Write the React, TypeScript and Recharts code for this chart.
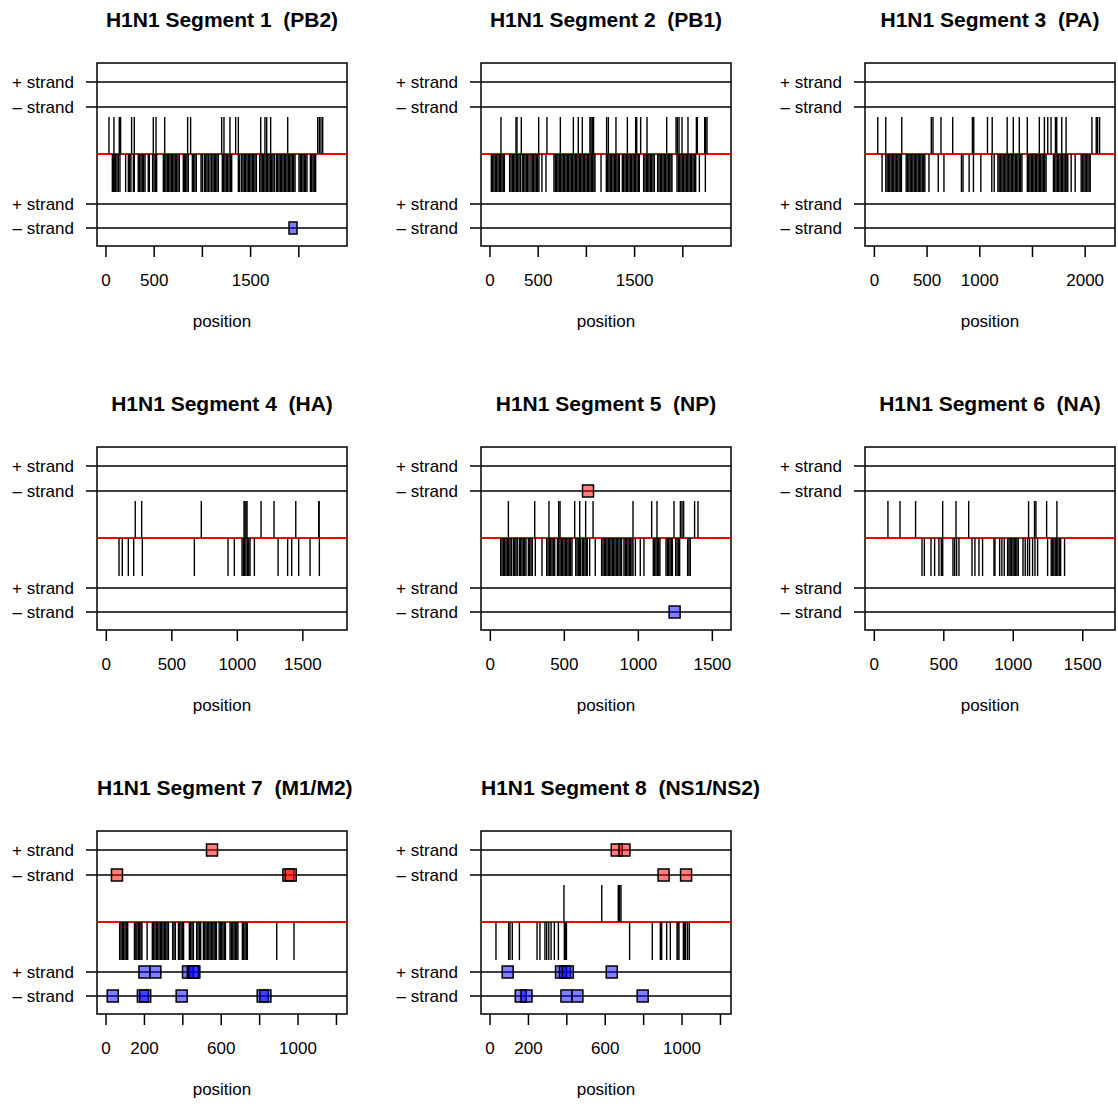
import { ComposedChart, Scatter, XAxis, YAxis, ReferenceLine, ReferenceArea, Label } from "recharts"

const FONT = '"Liberation Sans", Arial, Helvetica, sans-serif'

// y runs in box pixels from the top of the plot box
const BOX_H = 183
const STRAND_LEVELS = [19, 44, 141, 165]
const STRAND_LABELS = ["+ strand", "– strand", "+ strand", "– strand"]
const RED_LEVEL = 91
const UP_TOP = 54
const UP_LEN = 37
const DOWN_LEN = 38

const TITLES = [
  "H1N1 Segment 1  (PB2)", "H1N1 Segment 2  (PB1)", "H1N1 Segment 3  (PA)",
  "H1N1 Segment 4  (HA)", "H1N1 Segment 5  (NP)", "H1N1 Segment 6  (NA)",
  "H1N1 Segment 7  (M1/M2)", "H1N1 Segment 8  (NS1/NS2)",
]

// x axis
const ticksLong = [0, 500, 1000, 1500, 2000]
const labelsSeg12 = [0, 500, 1500]
const labelsSeg3 = [0, 500, 1000, 2000]
const ticksMid = [0, 500, 1000, 1500]
const ticksShort = [0, 200, 400, 600, 800, 1000, 1200]
const labelsShort = [0, 200, 600, 1000]

// segment 1 (PB2)
const seg1Up = [31, 83, 138, 152, 266, 294, 491, 519, 609, 847, 878, 1200, 1224, 1286, 1345, 1373, 1605, 1649, 1667, 1708, 1885, 2196, 2213, 2230, 2248]
const seg1Down = [66, 76, 86, 100, 114, 128, 145, 204, 232, 246, 259, 284, 294, 335, 349, 363, 377, 391, 405, 439, 450, 484, 498, 512, 526,
  595, 609, 622, 636, 650, 664, 678, 692, 705, 719, 733, 747, 761, 802, 813, 826, 840, 854, 896, 909, 923, 937, 986, 999,
  1020, 1034, 1048, 1062, 1079, 1096, 1110, 1124, 1138, 1151, 1165, 1207, 1221, 1234, 1248, 1262, 1276, 1290, 1304,
  1373, 1387, 1407, 1421, 1435, 1449, 1463, 1477, 1490, 1504, 1518, 1532, 1546, 1560, 1594, 1608, 1622, 1636, 1649, 1663,
  1677, 1691, 1705, 1719, 1732, 1746, 1767, 1781, 1795, 1809, 1822, 1836, 1850, 1864, 1878, 1892, 1906, 1919, 1933, 1947,
  1961, 2002, 2016, 2030, 2044, 2058, 2071, 2085, 2120, 2134, 2148, 2161, 2175]
const seg1MinusBot = [1940]

// segment 2 (PB1)
const seg2Up = [114, 270, 280, 325, 505, 591, 730, 865, 916, 958, 1037, 1048, 1062, 1075, 1210, 1228, 1307, 1425, 1511, 1522, 1563, 1629, 1833, 1930, 1943, 1961, 1992, 2054, 2141, 2151, 2227, 2237, 2251]
const seg2Down = [14, 28, 41, 55, 69, 83, 97, 111, 124, 138, 149, 204, 218, 232, 246, 259, 273, 287, 301, 315, 335, 349, 363, 377, 391, 405,
  425, 439, 453, 467, 481, 494, 508, 539, 581, 664, 678, 692, 705, 719, 733, 747, 761, 775, 789, 802, 816, 830, 844, 858, 872, 885,
  899, 913, 927, 941, 954, 968, 982, 996, 1010, 1024, 1037, 1051, 1065, 1079, 1089, 1152, 1207, 1221, 1234, 1248, 1262, 1276, 1290,
  1304, 1317, 1331, 1342, 1373, 1387, 1401, 1414, 1428, 1442, 1456, 1470, 1484, 1497, 1511, 1525, 1539, 1549, 1594, 1608, 1622, 1636,
  1649, 1663, 1677, 1691, 1705, 1739, 1753, 1767, 1781, 1795, 1809, 1822, 1836, 1850, 1864, 1878, 1888, 1940, 1954, 1968, 1981, 1995,
  2009, 2023, 2037, 2051, 2064, 2078, 2092, 2106, 2120, 2134, 2172, 2234]

// segment 3 (PA)
const seg3Up = [32, 108, 260, 540, 556, 632, 743, 930, 943, 1073, 1118, 1260, 1318, 1375, 1451, 1565, 1613, 1645, 1676, 1718, 1730, 1778, 1819, 2064, 2105, 2118, 2137]
const seg3Down = [73, 108, 121, 133, 146, 159, 171, 184, 197, 210, 222, 235, 248, 257, 302, 314, 327, 340, 352, 365, 378, 391, 403, 416, 429,
  441, 454, 467, 479, 518, 606, 660, 826, 841, 899, 940, 1010, 1114, 1137, 1172, 1184, 1197, 1210, 1222, 1235, 1248, 1260, 1273, 1286,
  1299, 1311, 1324, 1337, 1349, 1362, 1375, 1387, 1400, 1451, 1464, 1476, 1489, 1502, 1514, 1527, 1540, 1553, 1565, 1578, 1591, 1603,
  1616, 1629, 1699, 1711, 1724, 1737, 1749, 1762, 1775, 1787, 1800, 1813, 1826, 1835, 1867, 1905, 1962, 1975, 1988, 2000, 2013, 2026,
  2038, 2048]

// segment 4 (HA)
const seg4Up = [221, 270, 725, 1051, 1059, 1066, 1074, 1181, 1280, 1446, 1621, 1624]
const seg4Down = [97, 122, 168, 209, 275, 672, 929, 977, 1036, 1046, 1056, 1066, 1077, 1087, 1097, 1130, 1311, 1384, 1415, 1468, 1555, 1626]

// segment 5 (NP)
const seg5Up = [122, 300, 396, 462, 471, 570, 604, 644, 694, 964, 1090, 1126, 1241, 1284, 1295, 1306, 1380, 1403]
const seg5Down = [70, 79, 88, 97, 106, 115, 124, 133, 142, 155, 164, 173, 182, 196, 205, 214, 223, 232, 241, 257, 266, 275, 284, 304, 349,
  381, 390, 399, 408, 417, 426, 435, 453, 462, 471, 480, 489, 498, 507, 516, 525, 534, 543, 552, 577, 586, 595, 604, 610, 622, 631,
  640, 649, 655, 671, 709, 752, 761, 770, 779, 788, 797, 806, 815, 824, 833, 842, 851, 860, 869, 878, 887, 903, 912, 921, 930, 939,
  948, 957, 964, 980, 1013, 1038, 1101, 1110, 1119, 1128, 1137, 1146, 1187, 1196, 1205, 1214, 1223, 1230, 1252, 1261, 1270, 1279,
  1333, 1342, 1351]
const seg5MinusTop = [660]
const seg5MinusBot = [1245]

// segment 6 (NA)
const seg6Up = [98, 185, 297, 492, 588, 679, 1110, 1153, 1163, 1240, 1314]
const seg6Down = [343, 360, 408, 434, 465, 482, 492, 566, 578, 592, 609, 703, 724, 753, 779, 861, 868, 902, 918, 935, 959, 969, 978, 988,
  998, 1007, 1017, 1026, 1036, 1070, 1086, 1103, 1117, 1139, 1156, 1175, 1247, 1273, 1283, 1292, 1302, 1312, 1321, 1331, 1341, 1369]

// segment 7 (M1/M2)
const seg7Down = [71, 78, 85, 92, 99, 106, 113, 148, 155, 161, 168, 175, 182, 187, 214, 241, 248, 255, 262, 269, 276, 283, 290, 297, 304,
  311, 318, 325, 347, 354, 361, 377, 384, 391, 398, 404, 434, 441, 448, 455, 472, 479, 486, 493, 507, 514, 521, 528, 535, 542, 549,
  556, 563, 569, 575, 589, 595, 602, 609, 616, 622, 646, 653, 660, 667, 674, 681, 687, 710, 717, 724, 731, 736, 889, 979]
const seg7PlusTop = [552]
const seg7MinusTop = [57, 950, 962]
const seg7PlusBot = [200, 257, 427, 452, 460]
const seg7MinusBot = [35, 192, 204, 394, 816, 830]

// segment 8 (NS1/NS2)
const seg8Up = [385, 582, 668, 675, 682]
const seg8Down = [31, 97, 104, 116, 153, 245, 260, 286, 295, 306, 318, 335, 356, 387, 392, 398, 727, 845, 887, 894, 920, 939, 974, 979,
  984, 1007, 1012, 1019, 1029, 1038]
const seg8PlusTop = [660, 700]
const seg8MinusTop = [904, 1021]
const seg8PlusBot = [92, 370, 390, 405, 634]
const seg8MinusBot = [160, 190, 398, 455, 795]

const pts = (xs: number[], y: number) => xs.map((x) => ({ x, y }))

const panels = [
  { domain: [-93, 2500], ticks: ticksLong, labels: labelsSeg12, up: seg1Up, down: seg1Down, pt: [], mt: [], pb: [], mb: seg1MinusBot, sw: 8 },
  { domain: [-93, 2500], ticks: ticksLong, labels: labelsSeg12, up: seg2Up, down: seg2Down, pt: [], mt: [], pb: [], mb: [], sw: 11 },
  { domain: [-89, 2283], ticks: ticksLong, labels: labelsSeg3, up: seg3Up, down: seg3Down, pt: [], mt: [], pb: [], mb: [], sw: 11 },
  { domain: [-71, 1837], ticks: ticksMid, labels: ticksMid, up: seg4Up, down: seg4Down, pt: [], mt: [], pb: [], mb: [], sw: 11 },
  { domain: [-63, 1626], ticks: ticksMid, labels: ticksMid, up: seg5Up, down: seg5Down, pt: [], mt: seg5MinusTop, pb: [], mb: seg5MinusBot, sw: 11 },
  { domain: [-67, 1732], ticks: ticksMid, labels: ticksMid, up: seg6Up, down: seg6Down, pt: [], mt: [], pb: [], mb: [], sw: 11 },
  { domain: [-47, 1255], ticks: ticksShort, labels: labelsShort, up: [], down: seg7Down, pt: seg7PlusTop, mt: seg7MinusTop, pb: seg7PlusBot, mb: seg7MinusBot, sw: 11 },
  { domain: [-47, 1255], ticks: ticksShort, labels: labelsShort, up: seg8Up, down: seg8Down, pt: seg8PlusTop, mt: seg8MinusTop, pb: seg8PlusBot, mb: seg8MinusBot, sw: 11 },
]

const RED_FILL = "rgba(255,0,0,0.5)"
const BLUE_FILL = "rgba(0,0,255,0.5)"

const UpTick = (p: any) => <line x1={p.cx} x2={p.cx} y1={p.cy} y2={p.cy + UP_LEN} stroke="#000" strokeWidth={1.4} />
const DownTick = (p: any) => <line x1={p.cx} x2={p.cx} y1={p.cy} y2={p.cy + DOWN_LEN} stroke="#000" strokeWidth={1.4} />
const square = (fill: string, w: number) => (p: any) => (
  <rect x={p.cx - w / 2} y={p.cy - 6} width={w} height={12} fill={fill} stroke="#000" strokeWidth={1.5} />
)

function Panel({ idx }: { idx: number }) {
  const p = panels[idx]
  const col = idx % 3
  const row = Math.floor(idx / 3)
  const tickFont = { fontSize: 17, fill: "#000" }
  return (
    <>
      <div
        style={{
          position: "absolute", left: col * 384 + 97, top: row * 384 + 9, width: 250,
          textAlign: "center", fontWeight: "bold", fontSize: 21, lineHeight: "21px", whiteSpace: "pre",
        }}
      >
        {TITLES[idx]}
      </div>
      <div style={{ position: "absolute", left: col * 384, top: row * 384 }}>
        <ComposedChart width={350} height={340} margin={{ top: 63, right: 3, bottom: 0, left: 0 }}>
          <XAxis
            type="number" dataKey="x" domain={p.domain} allowDataOverflow ticks={p.ticks} interval={0}
            tickFormatter={(v: number) => (p.labels.includes(v) ? String(v) : "")}
            tick={tickFont} tickSize={11} tickMargin={17} axisLine={false}
            tickLine={{ stroke: "#000", strokeWidth: 1.5 }} height={94}
          >
            <Label value="position" position="insideBottom" offset={13} style={{ fontSize: 17, fill: "#000" }} />
          </XAxis>
          <YAxis
            type="number" dataKey="y" domain={[0, BOX_H]} reversed allowDataOverflow ticks={STRAND_LEVELS} interval={0}
            tickFormatter={(v: number) => STRAND_LABELS[STRAND_LEVELS.indexOf(v)]}
            tick={tickFont} tickSize={11} tickMargin={12} axisLine={false}
            tickLine={{ stroke: "#000", strokeWidth: 1.5 }} width={97}
          />
          {STRAND_LEVELS.map((lv) => (
            <ReferenceLine key={lv} y={lv} stroke="#000" strokeWidth={1.5} />
          ))}
          <ReferenceLine y={RED_LEVEL} stroke="#ff0000" strokeWidth={2} />
          <Scatter data={pts(p.up, UP_TOP)} shape={UpTick} isAnimationActive={false} />
          <Scatter data={pts(p.down, RED_LEVEL)} shape={DownTick} isAnimationActive={false} />
          <Scatter data={pts(p.pt, STRAND_LEVELS[0])} shape={square(RED_FILL, p.sw)} isAnimationActive={false} />
          <Scatter data={pts(p.mt, STRAND_LEVELS[1])} shape={square(RED_FILL, p.sw)} isAnimationActive={false} />
          <Scatter data={pts(p.pb, STRAND_LEVELS[2])} shape={square(BLUE_FILL, p.sw)} isAnimationActive={false} />
          <Scatter data={pts(p.mb, STRAND_LEVELS[3])} shape={square(BLUE_FILL, p.sw)} isAnimationActive={false} />
          <ReferenceArea
            x1={p.domain[0]} x2={p.domain[1]} y1={0} y2={BOX_H} ifOverflow="visible"
            fill="none" stroke="#000" strokeWidth={1.5} fillOpacity={0}
          />
        </ComposedChart>
      </div>
    </>
  )
}

export default function App() {
  return (
    <div style={{ position: "absolute", left: 0, top: 0, width: 1118, height: 1104, background: "#fff", fontFamily: FONT }}>
      {panels.map((_, i) => (
        <Panel key={i} idx={i} />
      ))}
    </div>
  )
}
